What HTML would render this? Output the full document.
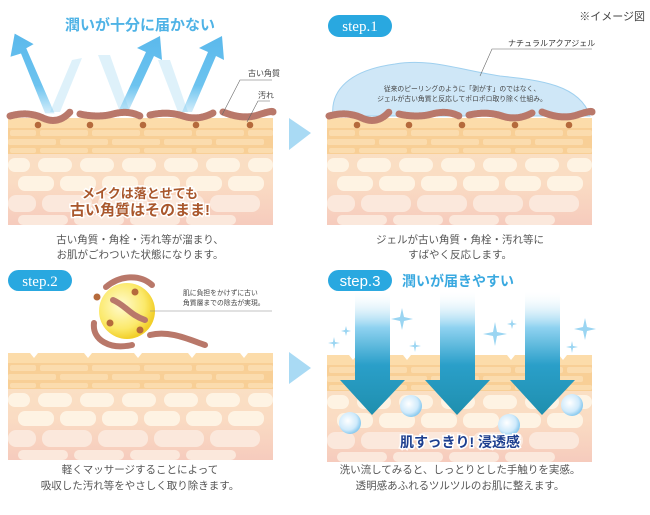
<!DOCTYPE html>
<html><head><meta charset="utf-8"><style>
body{margin:0;background:#fff;}
svg{display:block;font-family:"Liberation Sans","Noto Sans CJK JP",sans-serif;}
</style></head><body>
<svg width="650" height="515" viewBox="0 0 650 515" xmlns="http://www.w3.org/2000/svg">
<defs>
<linearGradient id="sk" x1="0" y1="0" x2="0" y2="1">
<stop offset="0" stop-color="#fbe3c4"/><stop offset="0.6" stop-color="#fadcc3"/><stop offset="1" stop-color="#f6cbbd"/></linearGradient>
<linearGradient id="up" x1="0" y1="1" x2="0" y2="0">
<stop offset="0" stop-color="#6cc3ef" stop-opacity="0.3"/><stop offset="0.35" stop-color="#6cc3ef"/><stop offset="1" stop-color="#5bb9ec"/></linearGradient>
<linearGradient id="dn" x1="0" y1="0" x2="0" y2="1">
<stop offset="0" stop-color="#ffffff" stop-opacity="0"/><stop offset="0.3" stop-color="#8fd2f0"/><stop offset="0.6" stop-color="#2a9fc9"/><stop offset="1" stop-color="#1f8fae"/></linearGradient>
<radialGradient id="bub" cx="0.4" cy="0.4" r="0.6"><stop offset="0" stop-color="#ffffff"/><stop offset="0.7" stop-color="#cfeafb"/><stop offset="1" stop-color="#8ccbef"/></radialGradient>
<radialGradient id="ball" cx="0.4" cy="0.4" r="0.6"><stop offset="0" stop-color="#fffbd0"/><stop offset="0.7" stop-color="#fbe96a"/><stop offset="1" stop-color="#f2cf2a"/></radialGradient>
<g id="skin">
<rect x="0" y="0" width="265" height="107" fill="url(#sk)"/>
<rect x="0" y="0" width="265" height="10" fill="#fcdcaa"/>
<rect x="0" y="10" width="265" height="26" fill="#f8cf96"/>
<g fill="#fbdcae">
<rect x="2" y="12" width="26" height="6" rx="2"/><rect x="32" y="12" width="48" height="6" rx="2"/><rect x="84" y="12" width="48" height="6" rx="2"/><rect x="136" y="12" width="48" height="6" rx="2"/><rect x="188" y="12" width="48" height="6" rx="2"/><rect x="240" y="12" width="25" height="6" rx="2"/>
<rect x="0" y="21" width="48" height="6" rx="2"/><rect x="52" y="21" width="48" height="6" rx="2"/><rect x="104" y="21" width="48" height="6" rx="2"/><rect x="156" y="21" width="48" height="6" rx="2"/><rect x="208" y="21" width="48" height="6" rx="2"/>
<rect x="2" y="30" width="26" height="5" rx="2"/><rect x="32" y="30" width="48" height="5" rx="2"/><rect x="84" y="30" width="48" height="5" rx="2"/><rect x="136" y="30" width="48" height="5" rx="2"/><rect x="188" y="30" width="48" height="5" rx="2"/><rect x="240" y="30" width="25" height="5" rx="2"/>
</g>
<g fill="#fef3e3">
<rect x="0" y="40" width="22" height="14" rx="7"/><rect x="30" y="40" width="34" height="14" rx="7"/><rect x="72" y="40" width="34" height="14" rx="7"/><rect x="114" y="40" width="34" height="14" rx="7"/><rect x="156" y="40" width="34" height="14" rx="7"/><rect x="198" y="40" width="34" height="14" rx="7"/><rect x="240" y="40" width="25" height="14" rx="7"/>
<rect x="10" y="58" width="36" height="15" rx="7"/><rect x="52" y="58" width="36" height="15" rx="7"/><rect x="94" y="58" width="36" height="15" rx="7"/><rect x="136" y="58" width="36" height="15" rx="7"/><rect x="178" y="58" width="36" height="15" rx="7"/><rect x="220" y="58" width="36" height="15" rx="7"/>
</g>
<g fill="#fbe8dc">
<rect x="0" y="77" width="28" height="17" rx="8"/><rect x="34" y="77" width="50" height="17" rx="8"/><rect x="90" y="77" width="50" height="17" rx="8"/><rect x="146" y="77" width="50" height="17" rx="8"/><rect x="202" y="77" width="50" height="17" rx="8"/>
<rect x="10" y="97" width="50" height="10" rx="5"/><rect x="66" y="97" width="50" height="10" rx="5"/><rect x="122" y="97" width="50" height="10" rx="5"/><rect x="178" y="97" width="50" height="10" rx="5"/>
</g>
</g>
<g id="dirt" fill="none" stroke="#b9786a" stroke-width="7" stroke-linecap="round" stroke-dasharray="1 0.3">
<path d="M2 0 Q20 -5 35 2 T 62 -4"/><path d="M72 -2 Q90 2 105 -2 T 132 0"/><path d="M142 -1 Q160 -5 175 0 T 205 -3"/><path d="M215 -4 Q235 4 250 -1 T 265 -4"/>
</g>
<g id="dots" fill="#b56a3c"><circle cx="30" cy="5" r="3.3"/><circle cx="82" cy="5" r="3.3"/><circle cx="135" cy="5" r="3.3"/><circle cx="188" cy="5" r="3.3"/><circle cx="242" cy="5" r="3.3"/></g>
</defs>

<!-- Panel 1 -->
<text x="140" y="30" font-size="15" font-weight="bold" fill="#4fb3e6" text-anchor="middle">潤いが十分に届かない</text>
<g fill="#d6eefa" opacity="0.8">
<path d="M72 60 L82 58 L60 112 L50 112 Z"/>
<path d="M98 55 L110 55 L130 112 L120 112 Z"/>
<path d="M158 60 L170 60 L188 112 L178 112 Z"/>
</g>
<g fill="url(#up)">
<path d="M45 112 L22 55 L12 58 L16 36 L34 46 L27 50 L54 112 Z" transform="scale(1.05) translate(-2,-4)"/>
<path d="M118 112 L146 52 L137 48 L160 36 L162 60 L154 56 L128 112 Z"/>
<path d="M182 112 L208 52 L199 48 L222 36 L224 60 L216 56 L192 112 Z"/>
</g>
<use href="#skin" x="8" y="118"/>
<use href="#dirt" x="8" y="116"/>
<use href="#dots" x="8" y="120"/>
<text x="248" y="76" font-size="8" fill="#444">古い角質</text>
<text x="258" y="98" font-size="8" fill="#444">汚れ</text>
<path d="M272 80 L240 80 L222 115" stroke="#666" stroke-width="0.6" fill="none"/>
<path d="M270 101 L258 101 L247 122" stroke="#666" stroke-width="0.6" fill="none"/>
<text x="140" y="198" font-size="13" font-weight="bold" fill="#a9572c" text-anchor="middle" stroke="#fff" stroke-width="3" paint-order="stroke">メイクは落とせても</text>
<text x="140" y="215" font-size="15" font-weight="bold" fill="#a9572c" text-anchor="middle" stroke="#fff" stroke-width="3" paint-order="stroke">古い角質はそのまま!</text>
<text x="140" y="243" font-size="10.5" fill="#555" text-anchor="middle">古い角質・角栓・汚れ等が溜まり、</text>
<text x="140" y="258" font-size="10.5" fill="#555" text-anchor="middle">お肌がごわついた状態になります。</text>

<!-- chevrons -->
<path d="M289 118 L311 133 L289 150 Z" fill="#a9daf4"/>
<path d="M289 352 L311 368 L289 384 Z" fill="#a9daf4"/>

<!-- Panel 2 -->
<rect x="328" y="15" width="64" height="22" rx="11" fill="#29a8e0"/>
<text x="360" y="31" font-size="15" fill="#fff" text-anchor="middle" font-family="Liberation Serif, serif">step.1</text>
<text x="645" y="20" font-size="11" fill="#444" text-anchor="end">※イメージ図</text>
<path d="M333 116 C330 90 350 70 395 64 C430 58 460 70 500 76 C540 80 580 85 590 116 Z" fill="#cfe7f7" stroke="#9fd0ef" stroke-width="1"/>
<text x="508" y="46" font-size="8" fill="#333">ナチュラルアクアジェル</text>
<path d="M592 49 L492 49 L480 76" stroke="#666" stroke-width="0.6" fill="none"/>
<text x="462" y="91" font-size="6.8" fill="#444" text-anchor="middle">従来のピーリングのように「剥がす」のではなく、</text>
<text x="462" y="101" font-size="6.8" fill="#444" text-anchor="middle">ジェルが古い角質と反応してポロポロ取り除く仕組み。</text>
<use href="#skin" x="327" y="118"/>
<use href="#dirt" x="327" y="116"/>
<use href="#dots" x="327" y="120"/>
<text x="460" y="243" font-size="10.5" fill="#555" text-anchor="middle">ジェルが古い角質・角栓・汚れ等に</text>
<text x="460" y="258" font-size="10.5" fill="#555" text-anchor="middle">すばやく反応します。</text>

<!-- Panel 3 -->
<rect x="8" y="270" width="64" height="21" rx="10.5" fill="#29a8e0"/>
<text x="40" y="286" font-size="15" fill="#fff" text-anchor="middle" font-family="Liberation Serif, serif">step.2</text>
<use href="#skin" x="8" y="353"/>
<g fill="#fff"><path d="M30 353 L34 358 L38 353 Z"/><path d="M84 353 L88 358 L92 353 Z"/><path d="M134 353 L138 358 L142 353 Z"/><path d="M188 353 L192 358 L196 353 Z"/><path d="M240 353 L244 358 L248 353 Z"/></g>
<circle cx="127" cy="311" r="28" fill="url(#ball)"/>
<g fill="none" stroke="#b9786a" stroke-width="6" stroke-linecap="round">
<path d="M106 287 C120 275 140 274 152 285"/>
<path d="M94 323 C92 340 110 350 132 345"/>
<path d="M113 300 C125 305 130 315 145 320"/>
<path d="M150 335 C170 330 190 340 205 345"/>
</g>
<g fill="#b56a3c"><circle cx="97" cy="297" r="3.5"/><circle cx="135" cy="292" r="3.5"/><circle cx="110" cy="323" r="3.5"/><circle cx="140" cy="330" r="3.5"/></g>
<text x="183" y="295" font-size="6.8" fill="#444">肌に負担をかけずに古い</text>
<text x="183" y="305" font-size="6.8" fill="#444">角質層までの除去が実現。</text>
<path d="M150 311 L272 311" stroke="#888" stroke-width="0.6"/>
<text x="140" y="473" font-size="10.5" fill="#555" text-anchor="middle">軽くマッサージすることによって</text>
<text x="140" y="489" font-size="10.5" fill="#555" text-anchor="middle">吸収した汚れ等をやさしく取り除きます。</text>

<!-- Panel 4 -->
<use href="#skin" x="327" y="355"/>
<g fill="#fff"><path d="M349 355 L353 360 L357 355 Z"/><path d="M403 355 L407 360 L411 355 Z"/><path d="M453 355 L457 360 L461 355 Z"/><path d="M507 355 L511 360 L515 355 Z"/><path d="M559 355 L563 360 L567 355 Z"/></g>
<rect x="328" y="270" width="64" height="21" rx="10.5" fill="#29a8e0"/>
<text x="360" y="286" font-size="15" fill="#fff" text-anchor="middle">step.3</text>
<text x="402" y="286" font-size="14" font-weight="bold" fill="#3aa9e0">潤いが届きやすい</text>
<g fill="url(#dn)">
<path d="M355 290 L390 290 L390 380 L405 380 L372 415 L340 380 L355 380 Z"/>
<path d="M440 290 L475 290 L475 380 L490 380 L457 415 L425 380 L440 380 Z"/>
<path d="M525 290 L560 290 L560 380 L575 380 L542 415 L510 380 L525 380 Z"/>
</g>
<g fill="#9ad5f2">
<path d="M402 308 l2 9 9 2 -9 2 -2 9 -2 -9 -9 -2 9 -2z"/>
<path d="M495 322 l2 10 10 2 -10 2 -2 10 -2 -10 -10 -2 10 -2z"/>
<path d="M585 318 l2 9 9 2 -9 2 -2 9 -2 -9 -9 -2 9 -2z"/>
<path d="M334 337 l1 5 5 1 -5 1 -1 5 -1 -5 -5 -1 5 -1z"/>
<path d="M415 340 l1 5 5 1 -5 1 -1 5 -1 -5 -5 -1 5 -1z"/>
<path d="M572 341 l1 5 5 1 -5 1 -1 5 -1 -5 -5 -1 5 -1z"/>
<path d="M346 326 l1 4 4 1 -4 1 -1 4 -1 -4 -4 -1 4 -1z"/>
<path d="M512 319 l1 4 4 1 -4 1 -1 4 -1 -4 -4 -1 4 -1z"/>
</g>
<circle cx="411" cy="406" r="11" fill="url(#bub)"/>
<circle cx="350" cy="423" r="11" fill="url(#bub)"/>
<circle cx="509" cy="425" r="11" fill="url(#bub)"/>
<circle cx="572" cy="405" r="11" fill="url(#bub)"/>
<text x="460" y="447" font-size="14" font-weight="bold" fill="#1d3f8f" text-anchor="middle" stroke="#fff" stroke-width="3" paint-order="stroke">肌すっきり! 浸透感</text>
<text x="460" y="473" font-size="10.5" fill="#555" text-anchor="middle">洗い流してみると、しっとりとした手触りを実感。</text>
<text x="460" y="489" font-size="10.5" fill="#555" text-anchor="middle">透明感あふれるツルツルのお肌に整えます。</text>
</svg>
</body></html>
